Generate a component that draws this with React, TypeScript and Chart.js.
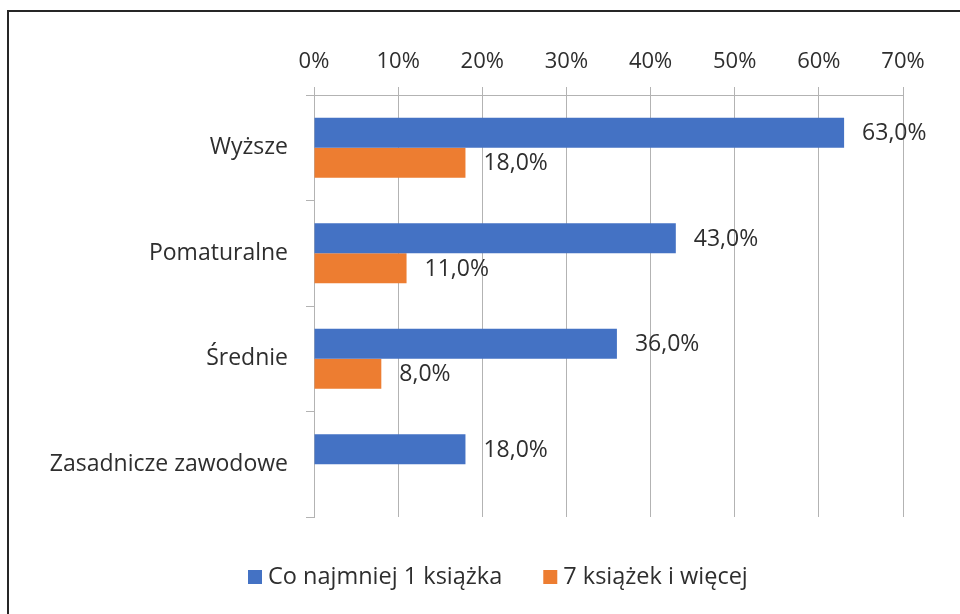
import React, { useEffect, useRef } from "react";
import { Chart, registerables } from "chart.js";

Chart.register(...registerables);

const categories = ["Wyższe", "Pomaturalne", "Średnie", "Zasadnicze zawodowe"];
const seriesNames = ["Co najmniej 1 książka", "7 książek i więcej"];
const atLeastOne = [63, 43, 36, 18];
const sevenOrMore: (number | null)[] = [18, 11, 8, null];
const xTicks = [0, 10, 20, 30, 40, 50, 60, 70];

const BLUE = "#4472C4";
const ORANGE = "#ED7D31";
const TEXT = "#2E2E2E";
const GRID = "#B3B3B3";
const FONT = "'Open Sans', sans-serif";

const fmt = (v: number) => v.toFixed(1).replace(".", ",") + "%";

const dataLabels = {
  id: "dataLabels",
  afterDatasetsDraw(chart: any) {
    const ctx = chart.ctx;
    ctx.save();
    ctx.font = `23px ${FONT}`;
    ctx.fillStyle = TEXT;
    ctx.textAlign = "left";
    ctx.textBaseline = "middle";
    chart.data.datasets.forEach((ds: any, di: number) => {
      const meta = chart.getDatasetMeta(di);
      meta.data.forEach((el: any, i: number) => {
        const v = ds.data[i];
        if (v === null || v === undefined) return;
        ctx.fillText(fmt(v), el.x + 18, el.y + 1);
      });
    });
    ctx.restore();
  },
};

const customLegend = {
  id: "customLegend",
  afterDraw(chart: any) {
    const ctx = chart.ctx;
    ctx.save();
    ctx.font = `23.5px ${FONT}`;
    ctx.textBaseline = "middle";
    ctx.textAlign = "left";
    let x = 248;
    const y = 577;
    chart.data.datasets.forEach((ds: any) => {
      ctx.fillStyle = ds.backgroundColor;
      ctx.fillRect(x, y - 7, 14, 14);
      x += 14 + 6;
      ctx.fillStyle = TEXT;
      ctx.fillText(ds.label, x, y);
      x += ctx.measureText(ds.label).width + 41;
    });
    ctx.restore();
  },
};

export default function App() {
  const ref = useRef<HTMLCanvasElement>(null);
  useEffect(() => {
    if (!ref.current) return;
    const chart = new Chart(ref.current, {
      type: "bar",
      data: {
        labels: categories,
        datasets: [
          {
            label: seriesNames[0],
            data: atLeastOne,
            backgroundColor: BLUE,
            categoryPercentage: 0.57,
            barPercentage: 1,
          },
          {
            label: seriesNames[1],
            data: sevenOrMore,
            backgroundColor: ORANGE,
            categoryPercentage: 0.57,
            barPercentage: 1,
          },
        ],
      },
      options: {
        indexAxis: "y",
        animation: false,
        responsive: false,
        layout: { padding: { left: 0, right: 57, top: 0, bottom: 97 } },
        plugins: {
          legend: { display: false },
          tooltip: { enabled: false },
        },
        scales: {
          x: {
            position: "top",
            min: 0,
            max: 70,
            afterBuildTicks: (scale: any) => {
              scale.ticks = xTicks.map((v) => ({ value: v }));
            },
            afterFit: (scale: any) => {
              scale.height = 95;
            },
            ticks: {
              callback: (v: any) => v + "%",
              font: { family: FONT, size: 22 },
              color: TEXT,
              padding: 12,
            },
            grid: { color: GRID, tickLength: 8, lineWidth: 1 },
            border: { display: true, color: GRID },
          },
          y: {
            afterFit: (scale: any) => {
              scale.width = 314;
            },
            ticks: {
              font: { family: FONT, size: 23 },
              color: TEXT,
              padding: 18,
            },
            grid: {
              drawOnChartArea: false,
              tickLength: 8,
              color: GRID,
              offset: true,
            },
            border: { display: true, color: GRID },
          },
        },
      },
      plugins: [dataLabels, customLegend],
    });
    return () => chart.destroy();
  }, []);

  return (
    <div
      style={{
        position: "fixed",
        left: 0,
        top: 0,
        width: 960,
        height: 614,
        background: "#fff",
        overflow: "hidden",
      }}
    >
      <div
        style={{
          position: "absolute",
          left: 7,
          top: 10,
          width: 1000,
          height: 700,
          borderTop: "2px solid #262626",
          borderLeft: "2px solid #262626",
        }}
      />
      <canvas
        ref={ref}
        width={960}
        height={614}
        style={{ position: "absolute", left: 0, top: 0 }}
      />
    </div>
  );
}
